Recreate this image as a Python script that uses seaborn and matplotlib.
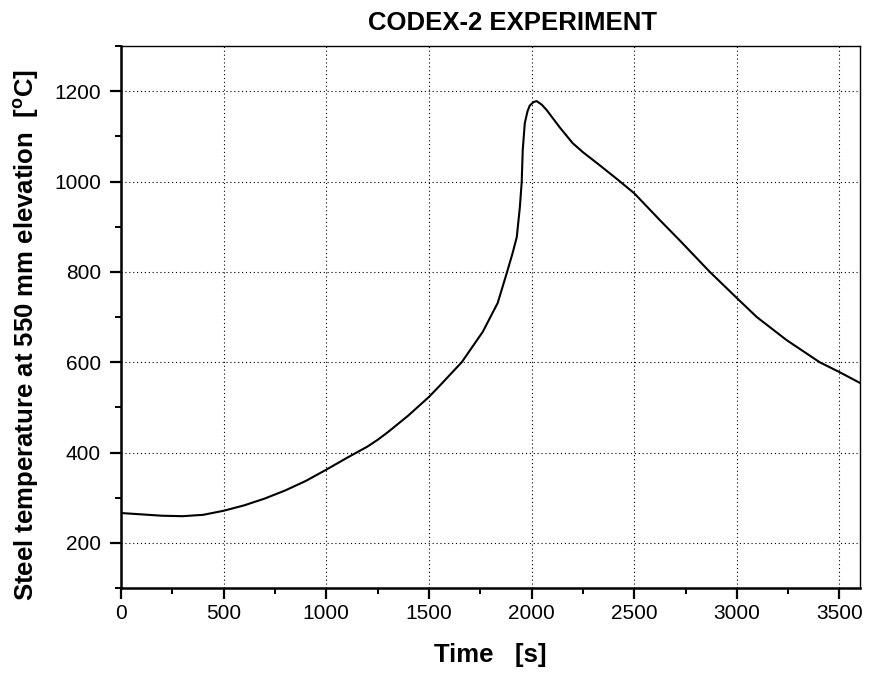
import matplotlib
matplotlib.use("Agg")
import matplotlib.pyplot as plt
import seaborn as sns
import pandas as pd
from matplotlib.ticker import MultipleLocator

time_s = [0, 100, 200, 300, 400, 500, 600, 700, 800, 900, 1000, 1100, 1200, 1250,
          1300, 1400, 1500, 1553, 1660, 1762, 1835, 1879, 1908, 1928, 1943, 1952,
          1957, 1967, 1980, 1991, 2010, 2025, 2050, 2074, 2137, 2200, 2250, 2332,
          2420, 2500, 2624, 2721, 2868, 3000, 3097, 3242, 3403, 3500, 3600]
temp_c = [266, 263, 260, 259, 262, 271, 283, 298, 316, 337, 362, 388, 413, 428,
          445, 482, 523, 548, 600, 667, 731, 797, 842, 877, 943, 999,
          1069, 1129, 1155, 1168, 1176, 1178, 1170, 1158, 1120, 1085, 1065, 1036,
          1004, 974, 915, 870, 800, 742, 700, 649, 600, 578, 554]

df = pd.DataFrame({"Time": time_s, "Temp": temp_c})

sns.set_theme(style="white", rc={
    "text.color": "black", "axes.labelcolor": "black",
    "xtick.color": "black", "ytick.color": "black",
    "axes.edgecolor": "black",
})
plt.rcParams['font.family'] = ['Liberation Sans', 'DejaVu Sans']
plt.rcParams['mathtext.fontset'] = 'custom'
plt.rcParams['mathtext.rm'] = 'Liberation Sans:bold'
plt.rcParams['mathtext.bf'] = 'Liberation Sans:bold'

fig = plt.figure(figsize=(8.69, 6.79), dpi=100)
ax = fig.add_axes([121/869, 1-588/679, (860-121)/869, (588-46)/679])

sns.lineplot(data=df, x="Time", y="Temp", ax=ax, color="black", linewidth=1.5)

ax.set_xlim(0, 3600)
ax.set_ylim(100, 1300)
ax.xaxis.set_major_locator(MultipleLocator(500))
ax.xaxis.set_minor_locator(MultipleLocator(250))
ax.yaxis.set_major_locator(MultipleLocator(200))
ax.yaxis.set_minor_locator(MultipleLocator(100))
ax.grid(True, which="major", color="black", linestyle=(0, (1, 2.5)), linewidth=0.8)

for s in ["left", "bottom"]:
    ax.spines[s].set_linewidth(1.8)
for s in ["top", "right"]:
    ax.spines[s].set_linewidth(1.0)

ax.tick_params(axis="both", which="major", direction="out", length=8, width=1.6,
               labelsize=15, bottom=True, left=True)
ax.tick_params(axis="x", which="major", pad=3.6)
ax.tick_params(axis="y", which="major", pad=6.5)
ax.tick_params(axis="both", which="minor", direction="out", length=4, width=1.4,
               bottom=True, left=True)

ax.set_xlabel("Time   [s]", fontsize=18.5, fontweight="bold")
ax.set_ylabel(r"Steel temperature at 550 mm elevation  [$^{\mathrm{o}}$C]",
              fontsize=18.5, fontweight="bold")
ax.xaxis.set_label_coords(0.5, (588-643)/542)
ax.yaxis.set_label_coords((41-121)/739, (588-335)/542)

fig.text(513/869, 1-30/679, "CODEX-2 EXPERIMENT", ha="center", va="baseline",
         fontsize=18.5, fontweight="bold")

fig.savefig("out.png", dpi=100)
